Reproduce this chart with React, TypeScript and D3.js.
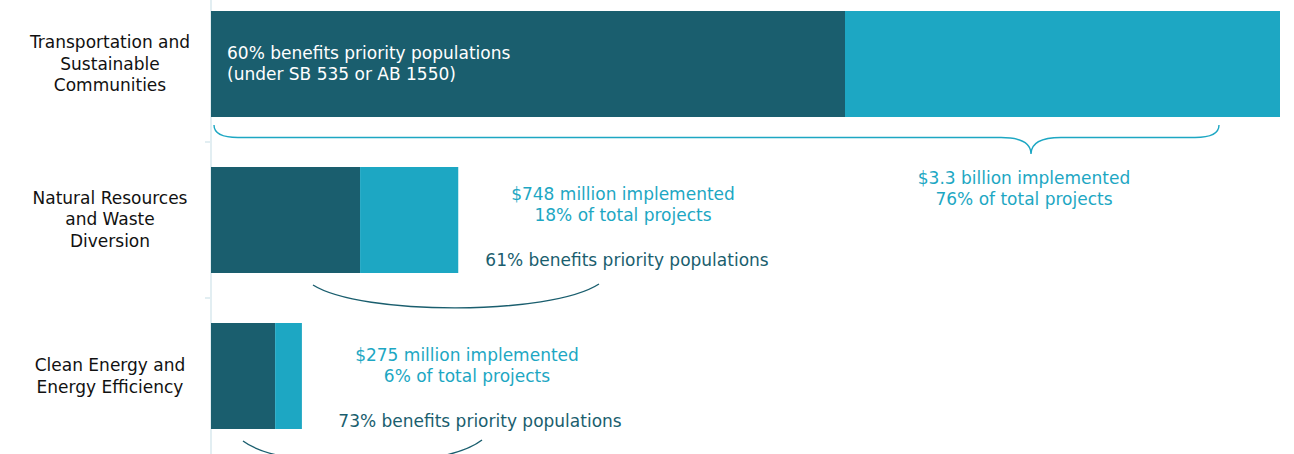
import React from "react";
import * as d3 from "d3";

const categories = [
  "Transportation and Sustainable Communities",
  "Natural Resources and Waste Diversion",
  "Clean Energy and Energy Efficiency",
];
const categoryLines = [
  ["Transportation and", "Sustainable", "Communities"],
  ["Natural Resources", "and Waste", "Diversion"],
  ["Clean Energy and", "Energy Efficiency"],
];
// $ millions
const priorityValues = [1918, 451, 194];
const otherValues = [1316, 297, 81];
const implementedLabels = ["$3.3 billion implemented", "$748 million implemented", "$275 million implemented"];
const shareLabels = ["76% of total projects", "18% of total projects", "6% of total projects"];
const priorityLabels = ["60% benefits priority populations", "61% benefits priority populations", "73% benefits priority populations"];

const W = 1294;
const H = 454;
const DARK = "#1a5e6e";
const LIGHT = "#1da7c3";
const AXIS = "#e2eef2";
const FONT = "'DejaVu Sans', sans-serif";
const FS = 17;

export default function App() {
  const totals = priorityValues.map((v, i) => v + otherValues[i]);
  const x = d3.scaleLinear().domain([0, d3.max(totals) as number]).range([211, 1280]);
  const y = d3.scaleBand<string>().domain(categories).range([-14, 454]).paddingInner(50 / 156).paddingOuter(25 / 156);
  const bw = y.bandwidth();
  const step = y.step();

  const curly = (x0: number, x1: number, xm: number, yEnd: number, yLine: number, yTip: number) => {
    const r = 24;
    const c = 30;
    return `M${x0},${yEnd} Q${x0},${yLine} ${x0 + r},${yLine} L${xm - c},${yLine} Q${xm},${yLine} ${xm},${yTip} Q${xm},${yLine} ${xm + c},${yLine} L${x1 - r},${yLine} Q${x1},${yLine} ${x1},${yEnd}`;
  };
  const smile = (x0: number, x1: number, yStart: number, yBottom: number) => {
    const dy = (yBottom - yStart) / 0.75;
    const cx0 = x0 + (x1 - x0) * 0.17;
    const cx1 = x1 - (x1 - x0) * 0.17;
    return `M${x0},${yStart} C${cx0},${yStart + dy} ${cx1},${yStart + dy} ${x1},${yStart - 1}`;
  };
  const labelOffsets = [-1, -1.5, -0.5];
  const annOffsets = [0, 0, 5];

  return (
    <svg width={W} height={H} style={{ position: "absolute", left: 0, top: 0, display: "block" }} fontFamily={FONT}>
      {/* axis */}
      <line x1={x(0)} x2={x(0)} y1={0} y2={H} stroke={AXIS} strokeWidth={2} />
      {[1, 2].map((i) => (
        <line key={i} x1={x(0) - 6} x2={x(0)} y1={-14 + step * i} y2={-14 + step * i} stroke={AXIS} strokeWidth={2} />
      ))}
      {categories.map((c, i) => {
        const y0 = y(c) as number;
        const lines = categoryLines[i];
        const cy = y0 + bw / 2 + labelOffsets[i];
        return (
          <g key={c}>
            <rect x={x(0)} y={y0} width={x(priorityValues[i]) - x(0)} height={bw} fill={DARK} />
            <rect x={x(priorityValues[i])} y={y0} width={x(totals[i]) - x(priorityValues[i])} height={bw} fill={LIGHT} />
            <text textAnchor="middle" fontSize={FS} fill="#111">
              {lines.map((l, j) => (
                <tspan key={j} x={110} y={cy + (j - (lines.length - 1) / 2) * 21.5 + 6.5}>{l}</tspan>
              ))}
            </text>
          </g>
        );
      })}
      {/* transportation annotations */}
      {(() => {
        const y0 = y(categories[0]) as number;
        return (
          <g>
            <text fontSize={FS} fill="#fff">
              <tspan x={x(0) + 16} y={y0 + 47.5}>{priorityLabels[0]}</tspan>
              <tspan x={x(0) + 16} y={y0 + 68.5}>(under SB 535 or AB 1550)</tspan>
            </text>
            <path d={curly(x(0) + 3, x(totals[0]) - 61, 1031, y0 + bw + 8, y0 + bw + 20.5, y0 + bw + 37)} fill="none" stroke={LIGHT} strokeWidth={1.4} />
            <text textAnchor="middle" fontSize={FS} fill={LIGHT}>
              <tspan x={1024} y={y0 + 172.5}>{implementedLabels[0]}</tspan>
              <tspan x={1024} y={y0 + 193.5}>{shareLabels[0]}</tspan>
            </text>
          </g>
        );
      })()}
      {[1, 2].map((i) => {
        const y0 = y(categories[i]) as number;
        const cx = i === 1 ? 623 : 467;
        const px = i === 1 ? 627 : 480;
        const bx0 = i === 1 ? 313 : 243;
        const bx1 = i === 1 ? 599 : 482;
        const o = annOffsets[i];
        return (
          <g key={i}>
            <text textAnchor="middle" fontSize={FS} fill={LIGHT}>
              <tspan x={cx} y={y0 + 32.5 + o}>{implementedLabels[i]}</tspan>
              <tspan x={cx} y={y0 + 53.5 + o}>{shareLabels[i]}</tspan>
            </text>
            <text textAnchor="middle" fontSize={FS} fill={DARK} x={px} y={y0 + 98.5 + o}>{priorityLabels[i]}</text>
            <path d={smile(bx0, bx1, y0 + bw + 12, y0 + bw + 35)} fill="none" stroke={DARK} strokeWidth={1.4} />
          </g>
        );
      })}
    </svg>
  );
}
